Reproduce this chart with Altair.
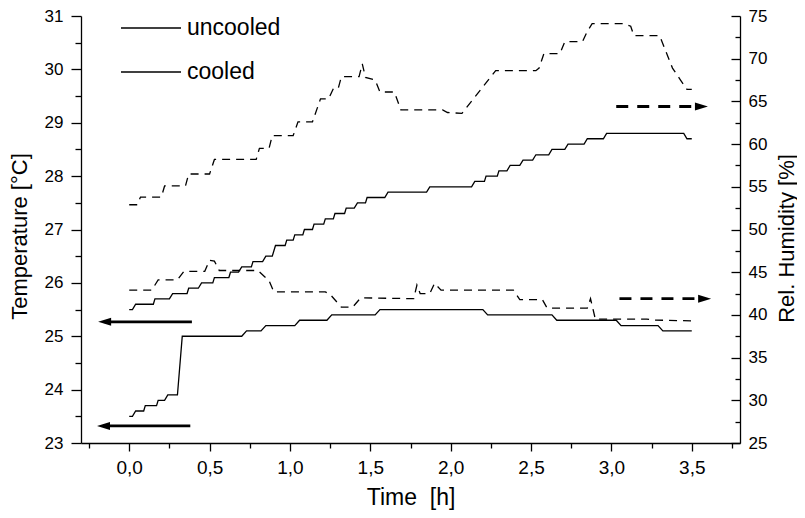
import altair as alt
import pandas as pd

# ---------------- data ----------------
# uncooled temperature: flat steps (start time, end time, level)
unc_T_start = [0.00,0.04,0.16,0.27,0.37,0.45,0.53,0.63,0.70,0.77,0.85,0.91,0.98,1.03,1.09,1.15,1.22,1.28,1.35,1.42,1.48,1.61,1.87,2.15,2.22,2.30,2.37,2.45,2.53,2.63,2.73,2.85,2.97,3.47]
unc_T_end   = [0.02,0.15,0.25,0.36,0.43,0.52,0.62,0.68,0.76,0.83,0.89,0.97,1.02,1.08,1.14,1.21,1.27,1.34,1.40,1.47,1.59,1.85,2.13,2.21,2.29,2.35,2.43,2.51,2.61,2.71,2.83,2.95,3.45,3.50]
unc_T_level = [25.5,25.6,25.7,25.8,25.9,26.0,26.1,26.2,26.3,26.4,26.5,26.7,26.8,26.9,27.0,27.1,27.2,27.3,27.4,27.5,27.6,27.7,27.8,27.9,28.0,28.1,28.2,28.3,28.4,28.5,28.6,28.7,28.8,28.7]

# cooled temperature
cool_T_start = [0.00,0.04,0.10,0.18,0.24,0.33,0.73,0.85,1.06,1.26,1.56,2.23,2.66,3.06,3.32]
cool_T_end   = [0.02,0.09,0.17,0.22,0.30,0.70,0.82,1.03,1.23,1.53,2.20,2.63,3.03,3.29,3.50]
cool_T_level = [23.5,23.6,23.7,23.8,23.9,25.0,25.1,25.2,25.3,25.4,25.5,25.4,25.3,25.2,25.1]

# uncooled relative humidity (vertices)
unc_H_time = [0.00,0.05,0.07,0.20,0.22,0.35,0.37,0.50,0.53,0.79,0.81,0.87,0.89,1.02,1.05,1.14,1.19,1.24,1.27,1.30,1.32,1.43,1.45,1.47,1.53,1.56,1.65,1.69,1.95,1.98,2.07,2.28,2.53,2.55,2.58,2.68,2.71,2.82,2.85,2.88,3.08,3.12,3.14,3.30,3.38,3.43,3.47,3.50]
unc_H_val  = [52.9,52.9,53.8,53.8,55.1,55.1,56.5,56.5,58.2,58.2,59.5,59.5,61.0,61.0,62.6,62.6,65.3,65.3,66.5,66.5,67.9,67.9,69.4,67.8,67.5,66.1,66.1,64.0,64.0,63.7,63.6,68.6,68.6,68.9,70.6,70.6,72.0,72.0,73.2,74.1,74.1,73.8,72.7,72.7,68.9,67.5,66.4,66.4]

# cooled relative humidity (vertices)
cool_H_time = [0.00,0.14,0.18,0.30,0.34,0.47,0.50,0.53,0.56,0.80,0.87,0.90,1.22,1.25,1.32,1.39,1.44,1.77,1.79,1.81,1.87,1.90,1.94,2.39,2.43,2.57,2.60,2.85,2.87,2.90,3.22,3.26,3.50]
cool_H_val  = [42.9,42.9,44.1,44.1,45.1,45.1,46.4,46.3,45.2,45.2,44.0,42.7,42.7,42.4,40.9,40.9,42.0,41.9,43.5,42.5,42.5,43.7,42.9,42.9,41.8,41.8,40.8,40.8,41.9,39.5,39.5,39.4,39.3]

# axis-pointing arrows (tail, head, level)
temp_arrow_tail = [0.39, 0.38]
temp_arrow_head = [-0.153, -0.16]
temp_arrow_level = [25.27, 23.32]
hum_arrow_tail = [3.03, 3.05]
hum_arrow_head = [3.56, 3.58]
hum_arrow_level = [64.4, 41.9]

x_major = [0, 0.5, 1.0, 1.5, 2.0, 2.5, 3.0, 3.5]
x_minor = [-0.25, 0.25, 0.75, 1.25, 1.75, 2.25, 2.75, 3.25, 3.75]
t_major = [23, 24, 25, 26, 27, 28, 29, 30, 31]
t_minor = [23.5, 24.5, 25.5, 26.5, 27.5, 28.5, 29.5, 30.5]
h_major = [25, 30, 35, 40, 45, 50, 55, 60, 65, 70, 75]
h_minor = [27.5, 32.5, 37.5, 42.5, 47.5, 52.5, 57.5, 62.5, 67.5, 72.5]

# ---------------- tables ----------------
def steps(name, s, e, v):
    rows = []
    for a, b, lv in zip(s, e, v):
        rows.append({"time": a, "value": lv, "series": name})
        rows.append({"time": b, "value": lv, "series": name})
    return rows

temp_rows = steps("uncooled", unc_T_start, unc_T_end, unc_T_level) + steps("cooled", cool_T_start, cool_T_end, cool_T_level)
temp_df = pd.DataFrame(temp_rows)
temp_df["idx"] = range(len(temp_df))

hum_df = pd.DataFrame(
    [{"time": t, "value": v, "series": "uncooled"} for t, v in zip(unc_H_time, unc_H_val)]
    + [{"time": t, "value": v, "series": "cooled"} for t, v in zip(cool_H_time, cool_H_val)]
)
hum_df["idx"] = range(len(hum_df))

tarrow = pd.DataFrame({"tail": temp_arrow_tail, "head": temp_arrow_head, "level": temp_arrow_level})
harrow = pd.DataFrame({"tail": hum_arrow_tail, "head": hum_arrow_head, "level": hum_arrow_level})

FONT = "Liberation Sans, Arial, sans-serif"
xs = alt.Scale(domain=[-0.3, 3.8], nice=False, zero=False)
ts = alt.Scale(domain=[23, 31], nice=False, zero=False)
hs = alt.Scale(domain=[25, 75], nice=False, zero=False)

common = dict(grid=False, domainColor="black", tickColor="black", domainWidth=1.3, tickWidth=1.3,
              labelColor="black", labelFont=FONT, labelFlush=False, labelOverlap=False,
              titleColor="black", titleFont=FONT, titleFontWeight="normal")

ax_x_major = alt.Axis(orient="bottom", values=x_major, tickSize=8, labelPadding=7, labelFontSize=19,
                      labelExpr="replace(format(datum.value, '.1f'), '.', ',')",
                      title="Time\u00a0 [h]", titleY=54, titleBaseline="middle", titleFontSize=23, **common)
ax_x_minor = alt.Axis(orient="bottom", values=x_minor, tickSize=5, labels=False, domain=False, title=None,
                      grid=False, tickColor="black", tickWidth=1.3)
ax_t_major = alt.Axis(orient="left", values=t_major, tickSize=10, labelPadding=8, labelFontSize=17,
                      title="Temperature [°C]", titleAngle=270, titleX=-62, titleY=220,
                      titleAlign="center", titleBaseline="middle", titleFontSize=22, **common)
ax_t_minor = alt.Axis(orient="left", values=t_minor, tickSize=6, labels=False, domain=False, title=None,
                      grid=False, tickColor="black", tickWidth=1.3)
ax_h_labels = alt.Axis(orient="right", values=h_major, ticks=False, labelPadding=8, labelFontSize=17,
                       title="Rel. Humidity [%]", titleAngle=270, titleX=46, titleY=222,
                       titleAlign="center", titleBaseline="middle", titleFontSize=22, **common)
ax_h_major = alt.Axis(orient="right", values=h_major, tickSize=9, offset=-9, labels=False, domain=False,
                      title=None, grid=False, tickColor="black", tickWidth=1.3)
ax_h_minor = alt.Axis(orient="right", values=h_minor, tickSize=5, offset=-5, labels=False, domain=False,
                      title=None, grid=False, tickColor="black", tickWidth=1.3)

temp_lines = alt.Chart(temp_df).mark_line(strokeWidth=1.3).encode(
    x=alt.X("time:Q", scale=xs, axis=ax_x_major),
    y=alt.Y("value:Q", scale=ts, axis=ax_t_major),
    color=alt.Color("series:N", scale=alt.Scale(domain=["uncooled", "cooled"], range=["black", "black"]),
                    legend=alt.Legend(orient="none", legendX=39, legendY=-19, title=None, symbolType="stroke",
                                      symbolSize=3600, symbolStrokeWidth=1.3, labelFont=FONT,
                                      labelFontSize=23, labelColor="black", labelOffset=5, rowPadding=1,
                                      padding=0)),
    order="idx:Q",
)

temp_shaft = alt.Chart(tarrow).mark_rule(strokeWidth=2.6, color="black").encode(
    x=alt.X("head:Q", scale=xs, axis=ax_x_minor),
    x2="tail:Q",
    y=alt.Y("level:Q", scale=ts, axis=ax_t_minor),
)
temp_head = alt.Chart(tarrow).mark_point(shape="M-1,0L1,-0.62L1,0.62Z", filled=True, size=169,
                                         color="black", opacity=1).encode(
    x=alt.X("head:Q", scale=xs, axis=None),
    y=alt.Y("level:Q", scale=ts, axis=None),
)

hum_lines = alt.Chart(hum_df).mark_line(strokeWidth=1.3, strokeDash=[8, 6], color="black").encode(
    x=alt.X("time:Q", scale=xs, axis=None),
    y=alt.Y("value:Q", scale=hs, axis=ax_h_labels),
    detail="series:N",
    order="idx:Q",
)
hum_shaft = alt.Chart(harrow).mark_rule(strokeWidth=2.8, strokeDash=[12, 9], color="black").encode(
    x=alt.X("tail:Q", scale=xs, axis=None),
    x2="head:Q",
    y=alt.Y("level:Q", scale=hs, axis=ax_h_major),
)
hum_head = alt.Chart(harrow).mark_point(shape="M1,0L-1,-0.62L-1,0.62Z", filled=True, size=169,
                                        color="black", opacity=1).encode(
    x=alt.X("head:Q", scale=xs, axis=None),
    y=alt.Y("level:Q", scale=hs, axis=ax_h_minor),
)

chart = alt.layer(temp_lines, temp_shaft, temp_head, hum_lines, hum_shaft, hum_head).resolve_scale(
    y="independent"
).resolve_axis(x="independent", y="independent").properties(
    width=659, height=427,
    autosize=alt.AutoSizeParams(type="none"),
    padding={"left": 73, "top": 8, "right": 57, "bottom": 67},
).configure_view(strokeWidth=0)

chart.save("out.html", embed_options={"renderer": "svg", "actions": False})
